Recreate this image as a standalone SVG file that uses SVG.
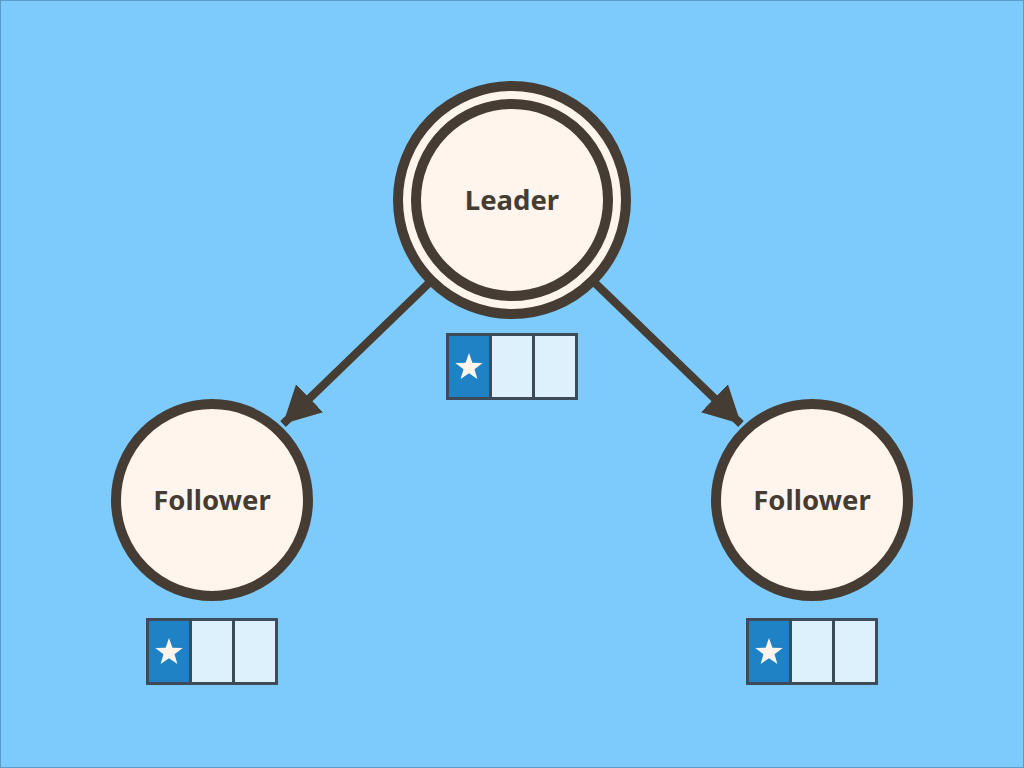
<svg xmlns="http://www.w3.org/2000/svg" width="1024" height="768" viewBox="0 0 1024 768">
<defs>
<style>
.node{fill:#fff5ec;stroke:#453d34;stroke-width:10}
.lbl{font-family:"Noto Sans","DejaVu Sans",sans-serif;font-weight:bold;font-size:27.5px;fill:#453d34;text-anchor:middle}
.edge{stroke:#453d34;stroke-width:8;fill:none}
.frame{fill:none;stroke:#3d4a5a;stroke-width:3}
.on{fill:#1e82c4}
.off{fill:#ddf1fd}
.star{fill:#fff5ec}
</style>
<marker id="arr" markerUnits="userSpaceOnUse" markerWidth="40" markerHeight="40" viewBox="0 0 40 40" refX="37" refY="20" orient="auto">
<path d="M0,0.5 L37,20 L0,39.5 Z" fill="#453d34"/>
</marker>
<g id="log">
<rect class="on" x="0" y="0" width="43" height="64"/>
<rect class="off" x="43" y="0" width="86" height="64"/>
<path class="frame" d="M43,0 V64 M86,0 V64"/>
<rect class="frame" x="0" y="0" width="129" height="64"/>
<polygon class="star" points="21.5,18.5 24.9,28.3 35.2,28.5 27,34.7 29.9,44.6 21.5,38.7 13.1,44.6 16,34.7 7.8,28.5 18.1,28.3"/>
</g>
</defs>
<rect x="0.5" y="0.5" width="1023" height="767" fill="#7dcbfc" stroke="#5b9bc9" stroke-width="1"/>
<g id="connectors">
<line class="edge" x1="429" y1="283" x2="283" y2="424" marker-end="url(#arr)"/>
<line class="edge" x1="595" y1="283" x2="741" y2="424" marker-end="url(#arr)"/>
</g>
<g id="leader">
<circle class="node" cx="512" cy="200" r="114"/>
<circle class="node" cx="512" cy="200" r="96"/>
<text class="lbl" x="512" y="210">Leader</text>
<use href="#log" x="447.5" y="334.5"/>
</g>
<g id="follower-left">
<circle class="node" cx="212" cy="500" r="96"/>
<text class="lbl" x="212" y="510">Follower</text>
<use href="#log" x="147.5" y="619.5"/>
</g>
<g id="follower-right">
<circle class="node" cx="812" cy="500" r="96"/>
<text class="lbl" x="812" y="510">Follower</text>
<use href="#log" x="747.5" y="619.5"/>
</g>
</svg>
